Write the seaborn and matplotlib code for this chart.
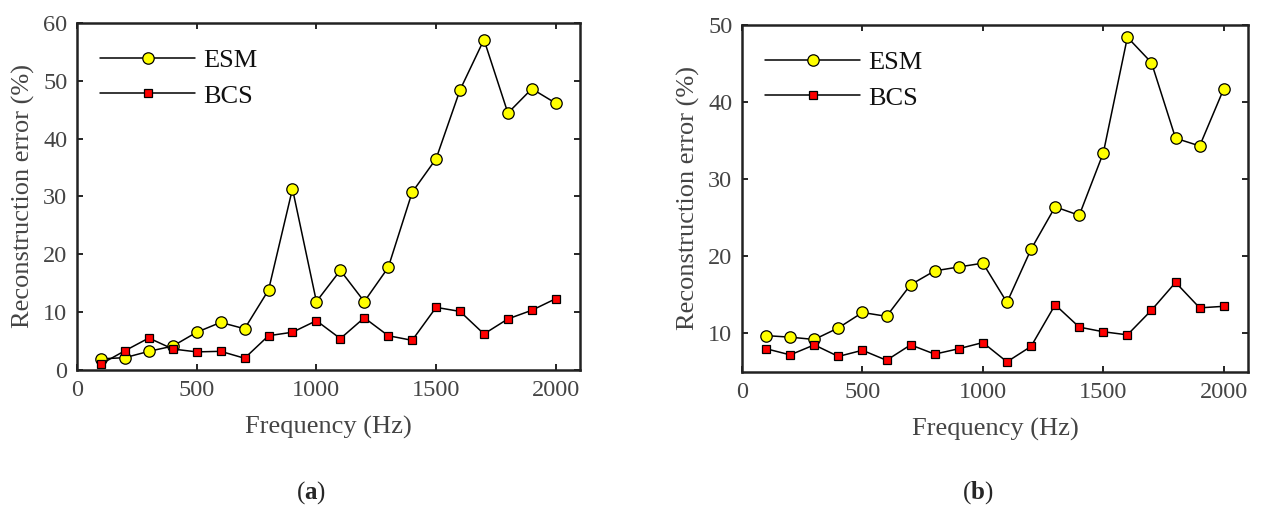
import pandas as pd
import matplotlib
matplotlib.use('Agg')
import matplotlib.pyplot as plt
import seaborn as sns

# values
freq = [100, 200, 300, 400, 500, 600, 700, 800, 900, 1000,
        1100, 1200, 1300, 1400, 1500, 1600, 1700, 1800, 1900, 2000]

esm_a = [1.9, 2.1, 3.2, 4.1, 6.5, 8.2, 7.1, 13.8, 31.3, 11.8,
         17.2, 11.8, 17.7, 30.7, 36.5, 48.4, 57.1, 44.4, 48.6, 46.1]
bcs_a = [1.0, 3.3, 5.5, 3.6, 3.1, 3.2, 2.0, 5.9, 6.5, 8.5,
         5.4, 9.0, 5.9, 5.1, 10.8, 10.1, 6.2, 8.8, 10.3, 12.3]

esm_b = [9.7, 9.5, 9.2, 10.7, 12.7, 12.2, 16.3, 18.1, 18.6, 19.1,
         14.0, 20.9, 26.4, 25.3, 33.4, 48.4, 45.1, 35.3, 34.3, 41.7]
bcs_b = [8.0, 7.2, 8.5, 7.0, 7.8, 6.5, 8.5, 7.3, 8.0, 8.8,
         6.3, 8.3, 13.7, 10.8, 10.2, 9.8, 13.0, 16.6, 13.3, 13.5]

sns.set_style('ticks')
plt.rcParams['font.family'] = ['Liberation Serif', 'DejaVu Serif']
plt.rcParams['mathtext.fontset'] = 'custom'
plt.rcParams['mathtext.rm'] = 'Liberation Serif'
plt.rcParams['mathtext.bf'] = 'Liberation Serif:bold'

fig = plt.figure(figsize=(12.63, 5.08), dpi=100)
ax1 = fig.add_axes([0.061, 0.272, 0.398, 0.683])
ax2 = fig.add_axes([0.5875, 0.268, 0.4005, 0.683])


def draw(ax, esm, bcs, ylim, yticks):
    df = pd.DataFrame({'freq': freq, 'ESM': esm, 'BCS': bcs})
    sns.lineplot(x='freq', y='ESM', data=df, ax=ax, color='black', linewidth=1.1,
                 marker='o', markersize=8.2, markerfacecolor='#ffff00',
                 markeredgecolor='black', markeredgewidth=0.9, label='ESM')
    sns.lineplot(x='freq', y='BCS', data=df, ax=ax, color='black', linewidth=1.1,
                 marker='s', markersize=6.3, markerfacecolor='#ff0000',
                 markeredgecolor='black', markeredgewidth=0.9, label='BCS')
    ax.set_xlim(0, 2100)
    ax.set_ylim(*ylim)
    ax.set_xticks([0, 500, 1000, 1500, 2000])
    ax.set_yticks(yticks)
    ax.tick_params(direction='in', length=4, width=1.2, top=True, right=True,
                   labelsize=17.5, colors='black', labelcolor='#444444', pad=7)
    for s in ax.spines.values():
        s.set_linewidth(1.8)
        s.set_color('#222222')
    ax.set_xlabel('Frequency (Hz)', fontsize=19, color='#444444', labelpad=11)
    ax.set_ylabel('Reconstruction error (%)', fontsize=19, color='#444444', labelpad=6)
    leg = ax.legend(loc='upper left', frameon=False, fontsize=19, handlelength=3.6,
                    handletextpad=0.3, labelspacing=0.45, borderaxespad=0,
                    borderpad=0, bbox_to_anchor=(0.046, 0.925), markerscale=1.0)
    for t in leg.get_texts():
        t.set_color('#111111')


draw(ax1, esm_a, bcs_a, (0, 60), [0, 10, 20, 30, 40, 50, 60])
draw(ax2, esm_b, bcs_b, (5, 50), [10, 20, 30, 40, 50])

fig.text(0.246, 0.03, r'($\mathbf{a}$)', ha='center', va='center', fontsize=18)
fig.text(0.774, 0.03, r'($\mathbf{b}$)', ha='center', va='center', fontsize=18)

plt.savefig('out.png', dpi=100)
